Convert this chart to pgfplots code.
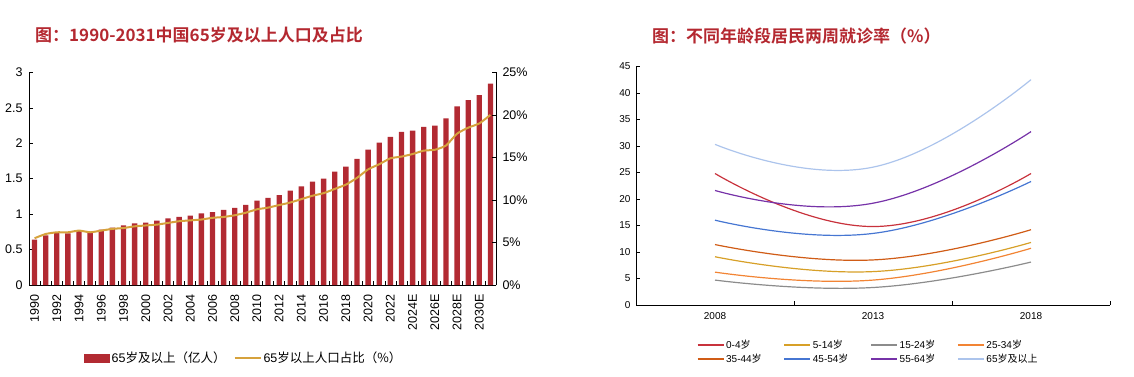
\documentclass[border=0pt]{standalone}
\usepackage{fontspec}
\setmainfont{Liberation Sans}
\newfontfamily\cjk{Noto Sans CJK SC}[BoldFont={Noto Sans CJK SC Bold}]
\usepackage{pgfplots}
\pgfplotsset{compat=1.18}
\definecolor{barred}{RGB}{178,42,50}
\definecolor{titlered}{RGB}{180,40,48}
\definecolor{goldl}{RGB}{214,162,60}
\definecolor{c04}{RGB}{200,50,60}
\definecolor{c514}{RGB}{215,160,40}
\definecolor{c1524}{RGB}{140,140,140}
\definecolor{c2534}{RGB}{242,132,52}
\definecolor{c3544}{RGB}{208,92,22}
\definecolor{c4554}{RGB}{70,118,210}
\definecolor{c5564}{RGB}{118,50,168}
\definecolor{c65}{RGB}{172,196,236}
\begin{document}
\begin{tikzpicture}
\useasboundingbox (0pt,0pt) rectangle (1134pt,-377pt);
\node[anchor=west, text=titlered, font=\cjk\bfseries\fontsize{17}{20}\selectfont, inner sep=0pt] at (35pt,-35pt) {图：1990-2031中国65岁及以上人口及占比};
\node[anchor=west, text=titlered, font=\cjk\bfseries\fontsize{17}{20}\selectfont, inner sep=0pt] at (652pt,-36pt) {图：不同年龄段居民两周就诊率（\%）};

% ---------- left chart: bars ----------
\begin{axis}[at={(29pt,-285pt)}, anchor=south west, scale only axis,
  width=467pt, height=212.6pt,
  xmin=-0.5, xmax=41.5, ymin=0, ymax=3,
  axis x line*=bottom, axis y line*=left,
  axis line style={black, line width=0.8pt, -},
  tick align=inside, major tick length=4pt,
  tick style={black, line width=0.6pt},
  font=\fontsize{12.5}{14}\selectfont,
  /pgf/number format/assume math mode=true,
  ytick={0,0.5,1,1.5,2,2.5,3},
  yticklabel style={xshift=-3pt},
  xtick={-0.5,0.5,...,41.5}, xticklabel={\mbox{}},
  extra x ticks={0,2,...,40},
  extra x tick labels={1990,1992,1994,1996,1998,2000,2002,2004,2006,2008,2010,2012,2014,2016,2018,2020,2022,2024E,2026E,2028E,2030E},
  extra x tick style={major tick length=0pt, tick label style={rotate=90, anchor=east, yshift=0pt, xshift=-6pt}},
]
\addplot[ybar, bar width=0.48, fill=barred, draw=none] coordinates {
(0,0.64) (1,0.70) (2,0.74) (3,0.73) (4,0.77) (5,0.74) (6,0.78) (7,0.81) (8,0.84) (9,0.87)
(10,0.88) (11,0.91) (12,0.94) (13,0.96) (14,0.98) (15,1.01) (16,1.03) (17,1.06) (18,1.09) (19,1.13)
(20,1.19) (21,1.23) (22,1.27) (23,1.33) (24,1.39) (25,1.46) (26,1.50) (27,1.60) (28,1.67) (29,1.78)
(30,1.91) (31,2.01) (32,2.09) (33,2.16) (34,2.18) (35,2.23) (36,2.25) (37,2.35) (38,2.52) (39,2.61)
(40,2.68) (41,2.84)};
\end{axis}

% ---------- left chart: share line ----------
\begin{axis}[at={(29pt,-285pt)}, anchor=south west, scale only axis,
  width=467pt, height=212.6pt,
  xmin=-0.5, xmax=41.5, ymin=0, ymax=25,
  axis x line=none, axis y line*=right,
  axis line style={black, line width=0.8pt, -},
  tick align=inside, major tick length=4pt,
  tick style={black, line width=0.6pt},
  font=\fontsize{12.5}{14}\selectfont,
  /pgf/number format/assume math mode=true,
  ytick={0,5,10,15,20,25},
  yticklabel={\pgfmathprintnumber{\tick}\%},
  yticklabel style={xshift=3pt},
  legend style={at={(0.46,-0.344)}, anchor=center, draw=none, fill=none,
    legend columns=2, font=\fontsize{12.5}{14}\selectfont,
    /tikz/every even column/.append style={column sep=6pt}},
  legend cell align=left,
]
\addlegendimage{legend image code/.code={\fill[barred] (0pt,-4pt) rectangle (25pt,4pt);}}
\addlegendentry{65{\cjk 岁及以上（亿人）}}
\addplot[goldl, line width=2pt, smooth, tension=0.3,
  legend image code/.code={\draw[goldl, line width=2pt] (0pt,0pt) -- (26pt,0pt);}] coordinates {
(0,5.5) (1,6.0) (2,6.2) (3,6.2) (4,6.4) (5,6.2) (6,6.4) (7,6.6) (8,6.7) (9,6.9)
(10,7.0) (11,7.1) (12,7.3) (13,7.5) (14,7.6) (15,7.7) (16,7.9) (17,8.0) (18,8.2) (19,8.5)
(20,8.9) (21,9.1) (22,9.4) (23,9.7) (24,10.1) (25,10.5) (26,10.8) (27,11.3) (28,11.8) (29,12.6)
(30,13.6) (31,14.2) (32,14.9) (33,15.1) (34,15.4) (35,15.8) (36,15.9) (37,16.4) (38,17.8) (39,18.5)
(40,19.0) (41,20.0)};
\addlegendentry{65{\cjk 岁以上人口占比（\%）}}
\end{axis}

% ---------- right chart ----------
\begin{axis}[at={(636pt,-305pt)}, anchor=south west, scale only axis,
  width=474pt, height=238.6pt,
  xmin=0, xmax=3, ymin=0, ymax=45,
  axis x line*=bottom, axis y line*=left,
  axis line style={black, line width=0.8pt, -},
  tick align=inside, major tick length=4pt,
  tick style={black, line width=0.6pt},
  font=\fontsize{10}{12}\selectfont,
  /pgf/number format/assume math mode=true,
  ytick={0,5,...,45},
  yticklabel style={xshift=-2pt},
  xtick={0,1,2,3}, xticklabel={\mbox{}},
  extra x ticks={0.5,1.5,2.5},
  extra x tick labels={2008,2013,2018},
  extra x tick style={major tick length=0pt, tick label style={yshift=-4pt}},
  legend style={at={(0.49,-0.197)}, anchor=center, draw=none, fill=none,
    legend columns=4, font=\fontsize{10}{12}\selectfont, row sep=0pt,
    /tikz/every even column/.append style={column sep=20pt}},
  legend cell align=left,
  legend image code/.code={\draw[#1] (0pt,0pt) -- (26pt,0pt);},
]
\addplot[c04, line width=1.2pt, smooth, tension=0.8] coordinates {(0.5,24.8) (1.5,14.8) (2.5,24.8)};
\addlegendentry{0-4{\cjk 岁}}
\addplot[c514, line width=1.2pt, smooth, tension=0.8] coordinates {(0.5,9.1) (1.5,6.3) (2.5,11.8)};
\addlegendentry{5-14{\cjk 岁}}
\addplot[c1524, line width=1.2pt, smooth, tension=0.8] coordinates {(0.5,4.7) (1.5,3.3) (2.5,8.1)};
\addlegendentry{15-24{\cjk 岁}}
\addplot[c2534, line width=1.2pt, smooth, tension=0.8] coordinates {(0.5,6.2) (1.5,4.7) (2.5,10.7)};
\addlegendentry{25-34{\cjk 岁}}
\addplot[c3544, line width=1.2pt, smooth, tension=0.8] coordinates {(0.5,11.4) (1.5,8.5) (2.5,14.2)};
\addlegendentry{35-44{\cjk 岁}}
\addplot[c4554, line width=1.2pt, smooth, tension=0.8] coordinates {(0.5,16.0) (1.5,13.5) (2.5,23.3)};
\addlegendentry{45-54{\cjk 岁}}
\addplot[c5564, line width=1.2pt, smooth, tension=0.8] coordinates {(0.5,21.6) (1.5,19.2) (2.5,32.7)};
\addlegendentry{55-64{\cjk 岁}}
\addplot[c65, line width=1.2pt, smooth, tension=0.8] coordinates {(0.5,30.3) (1.5,26.0) (2.5,42.5)};
\addlegendentry{65{\cjk 岁及以上}}
\end{axis}
\end{tikzpicture}
\end{document}
